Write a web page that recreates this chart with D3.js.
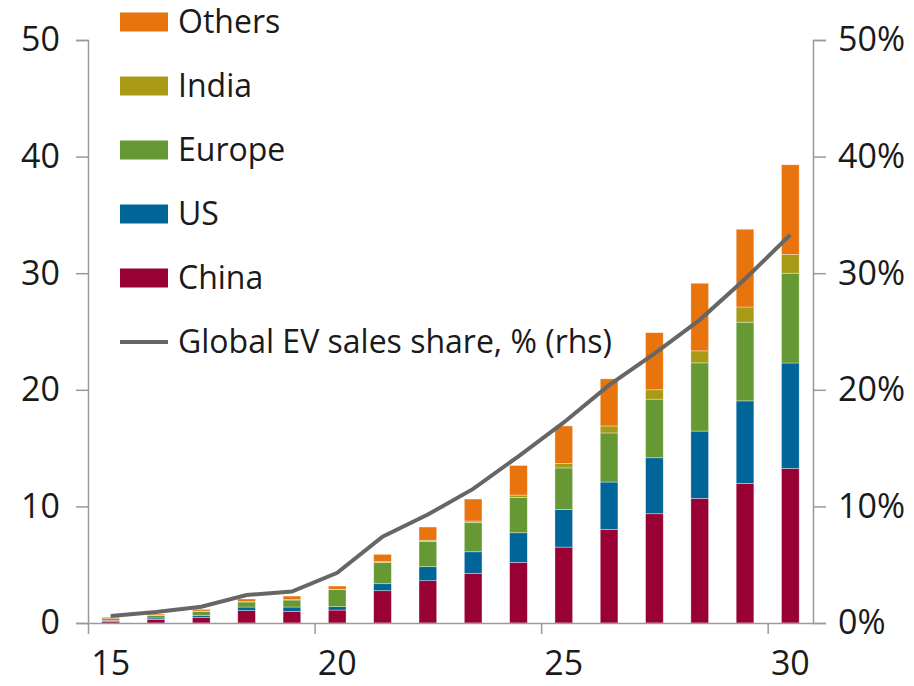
<!DOCTYPE html>
<html>
<head>
<meta charset="utf-8">
<script src="https://cdn.jsdelivr.net/npm/d3@7"></script>
<style>
    body { margin: 0; background: #fff; }
    svg text { font-family: "Open Sans", sans-serif; fill: #1a1a1a; }
</style>
</head>
<body>
<svg id="chart" width="914" height="686"></svg>
<script>
// years 2015..2030, EV sales in millions by region
var years = d3.range(2015, 2031);
var china  = [0.15, 0.31, 0.49, 1.06, 1.0, 1.11, 2.77, 3.63, 4.26, 5.2, 6.51, 8.03, 9.37, 10.69, 11.97, 13.26];
var us     = [0.08, 0.12, 0.17, 0.31, 0.37, 0.29, 0.6, 1.2, 1.85, 2.54, 3.23, 4.06, 4.8, 5.77, 7.08, 9.04];
var europe = [0.14, 0.23, 0.34, 0.43, 0.6, 1.46, 1.83, 2.17, 2.52, 3.03, 3.56, 4.21, 5.03, 5.85, 6.75, 7.7];
var india  = [0, 0.02, 0.02, 0.03, 0.03, 0.03, 0.06, 0.1, 0.12, 0.2, 0.39, 0.6, 0.8, 1.03, 1.3, 1.6];
var others = [0.12, 0.09, 0.15, 0.23, 0.31, 0.28, 0.63, 1.13, 1.88, 2.54, 3.21, 4.04, 4.9, 5.8, 6.67, 7.7];
// global EV sales share, % (rhs)
var share  = [0.6, 0.94, 1.4, 2.4, 2.7, 4.3, 7.4, 9.3, 11.5, 14.3, 17.2, 20.4, 23.1, 26.0, 29.5, 33.3];

var seriesNames = ["China", "US", "Europe", "India", "Others"];
var seriesColors = ["#990033", "#006699", "#669933", "#a89a14", "#e8740d"];
var xLabelYears = [2015, 2020, 2025, 2030];
var yTicks = [0, 10, 20, 30, 40, 50];

var svg = d3.select("#chart");
var plotLeft = 88, plotRight = 813, plotTop = 40, plotBottom = 623;
var axisColor = "#9a9a9a";
var tickFont = "34px";
var legendFont = "32px";

var rows = years.map(function (yr, i) {
    return {year: yr, China: china[i], US: us[i], Europe: europe[i], India: india[i], Others: others[i]};
});
var stacked = d3.stack().keys(seriesNames)(rows);

var x = d3.scaleBand()
    .domain(years)
    .range([plotLeft, plotRight])
    .paddingInner(0.61)
    .paddingOuter(0.305);
// linear scale on category boundaries for the tick marks
var xEdge = d3.scaleLinear().domain([2015, 2031]).range([plotLeft, plotRight]);

var y = d3.scaleLinear().domain([0, 50]).range([plotBottom, plotTop]);
var yR = d3.scaleLinear().domain([0, 50]).range([plotBottom, plotTop]);

var color = d3.scaleOrdinal().domain(seriesNames).range(seriesColors);

// bars
svg.append("g").selectAll("g")
    .data(stacked)
    .enter().append("g")
    .attr("fill", function (d) { return color(d.key); })
    .selectAll("rect")
    .data(function (d) { return d; })
    .enter().append("rect")
    .attr("x", function (d) { return x(d.data.year); })
    .attr("width", x.bandwidth())
    .attr("y", function (d) { return y(d[1]); })
    .attr("height", function (d) { return Math.max(0, y(d[0]) - y(d[1])); })
    .style("stroke", "#fff")
    .style("stroke-opacity", 0.5)
    .style("stroke-width", 0.7);

// axes
function styleAxis(g) {
    g.selectAll(".domain").attr("stroke", axisColor).attr("stroke-width", 1.5);
    g.selectAll(".tick line").attr("stroke", axisColor).attr("stroke-width", 1.5);
    g.selectAll("text").style("font-size", tickFont).attr("fill", "#1a1a1a");
}

svg.append("g")
    .attr("transform", "translate(" + plotLeft + ",0)")
    .call(d3.axisLeft(y).tickValues(yTicks).tickSize(12).tickPadding(16))
    .call(styleAxis);

svg.append("g")
    .attr("transform", "translate(" + plotRight + ",0)")
    .call(d3.axisRight(yR).tickValues(yTicks).tickSize(13).tickPadding(12)
        .tickFormat(function (d) { return d + "%"; }))
    .call(styleAxis);

svg.append("g")
    .attr("transform", "translate(0," + plotBottom + ")")
    .call(d3.axisBottom(xEdge).tickValues(xLabelYears).tickSize(11).tickFormat("").tickSizeOuter(0))
    .call(styleAxis);

var bottomLabels = svg.append("g")
    .attr("transform", "translate(0," + plotBottom + ")")
    .call(d3.axisBottom(x).tickValues(xLabelYears).tickSize(0).tickPadding(28)
        .tickFormat(function (d) { return String(d).slice(2); }))
    .call(styleAxis);
bottomLabels.select(".domain").remove();

// share line
var line = d3.line()
    .x(function (d, i) { return x(years[i]) + x.bandwidth() / 2; })
    .y(function (d) { return yR(d); });

svg.append("path")
    .datum(share)
    .attr("d", line)
    .attr("fill", "none")
    .attr("stroke", "#666666")
    .attr("stroke-width", 4);

// legend
var legendItems = ["Others", "India", "Europe", "US", "China"];
var legend = svg.append("g").attr("transform", "translate(120,0)");

legendItems.forEach(function (name, i) {
    var cy = 22 + i * 64;
    legend.append("rect")
        .attr("x", 0)
        .attr("y", cy - 9.5)
        .attr("width", 48)
        .attr("height", 19)
        .attr("fill", color(name));
    legend.append("text")
        .attr("x", 58)
        .attr("y", cy)
        .attr("dy", "0.35em")
        .style("font-size", legendFont)
        .text(name);
});

var lineY = 22 + 5 * 64;
legend.append("line")
    .attr("x1", 0).attr("x2", 48)
    .attr("y1", lineY).attr("y2", lineY)
    .attr("stroke", "#666666")
    .attr("stroke-width", 4);
legend.append("text")
    .attr("x", 58)
    .attr("y", lineY)
    .attr("dy", "0.35em")
    .style("font-size", legendFont)
    .text("Global EV sales share, % (rhs)");
</script>
</body>
</html>
